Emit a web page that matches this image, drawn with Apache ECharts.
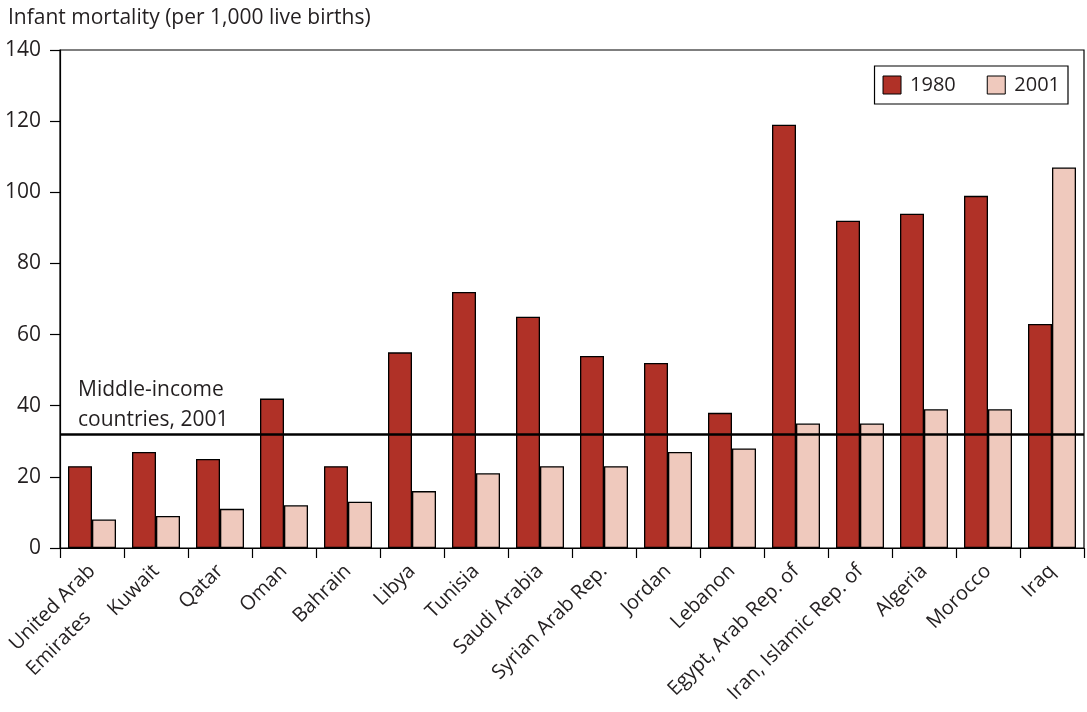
<!DOCTYPE html>
<html>
<head>
<meta charset="utf-8">
<script src="https://cdn.jsdelivr.net/npm/echarts@6/dist/echarts.min.js"></script>
<style>html,body{margin:0;padding:0;background:#fff}#c{width:1087px;height:712px}</style>
</head>
<body>
<div id="c"></div>
<script>
const categories = ['United Arab\nEmirates','Kuwait','Qatar','Oman','Bahrain','Libya','Tunisia','Saudi Arabia','Syrian Arab Rep.','Jordan','Lebanon','Egypt, Arab Rep. of','Iran, Islamic Rep. of','Algeria','Morocco','Iraq'];
const values1980 = [23,27,25,42,23,55,72,65,54,52,38,119,92,94,99,63];
const values2001 = [8,9,11,12,13,16,21,23,23,27,28,35,35,39,39,107];
const middleIncome2001 = 32;
const yTicks = {min:0, max:140, interval:20};

const FONT = '"Open Sans", "Noto Sans", sans-serif';
const TXT = '#231f20';
const chart = echarts.init(document.getElementById('c'), null, {renderer:'canvas'});
chart.setOption({
  animation:false,
  textStyle:{fontFamily:FONT, color:TXT},
  title:{
    text:'Infant mortality (per 1,000 live births)',
    left:3, top:3,
    textStyle:{fontFamily:FONT, fontSize:21, fontWeight:'normal', color:TXT}
  },
  legend:{
    right:19, top:66,
    orient:'horizontal',
    backgroundColor:'#fff',
    borderColor:'#000', borderWidth:1.2,
    padding:[9,8,9,8],
    itemWidth:18, itemHeight:18, itemGap:31,
    icon:'rect',
    itemStyle:{borderColor:'#000', borderWidth:1},
    textStyle:{fontFamily:FONT, fontSize:20, color:TXT, padding:[0,0,0,4]},
    data:['1980','2001']
  },
  grid:{left:60, right:3, top:50, bottom:164, outerBoundsMode:'none', containLabel:false,
        show:true, borderColor:'#000', borderWidth:1.2, backgroundColor:'transparent'},
  xAxis:{
    type:'category',
    data:categories,
    axisLine:{lineStyle:{color:'#000', width:1.2}},
    axisTick:{show:true, length:10, lineStyle:{color:'#000', width:1.2}},
    axisLabel:{
      rotate:45, interval:0, fontFamily:FONT, fontSize:20, color:TXT, margin:20, lineHeight:30,
      formatter:function(v){
        if (v.indexOf('\n') >= 0) {
          const p = v.split('\n');
          return '{s| }\n{a|' + p[0] + '}\n{b|' + p[1] + '}';
        }
        return v;
      },
      rich:{
        s:{fontFamily:FONT, fontSize:20, lineHeight:30},
        a:{fontFamily:FONT, fontSize:20, color:TXT, lineHeight:30},
        b:{fontFamily:FONT, fontSize:20, color:TXT, lineHeight:30, padding:[0,36,0,0]}
      }
    }
  },
  yAxis:{
    type:'value', min:yTicks.min, max:yTicks.max, interval:yTicks.interval,
    axisLine:{show:true, lineStyle:{color:'#000', width:1.2}},
    axisTick:{show:true, length:10, lineStyle:{color:'#000', width:1.2}},
    axisLabel:{fontFamily:FONT, fontSize:21, color:TXT, margin:19},
    splitLine:{show:false}
  },
  series:[
    {
      name:'1980', type:'bar', data:values1980,
      barWidth:24, barGap:'0%',
      itemStyle:{color:'#b03127', borderColor:'#000', borderWidth:1.3},
      markLine:{
        silent:true, symbol:['none','none'],
        lineStyle:{color:'#000', width:2.6, type:'solid'},
        label:{
          show:true, position:'insideStartTop',
          formatter:'Middle-income\ncountries, 2001',
          fontFamily:FONT, fontSize:21, color:TXT, lineHeight:30,
          distance:[18,-1]
        },
        data:[{yAxis:middleIncome2001}],
        z:10
      }
    },
    {
      name:'2001', type:'bar', data:values2001,
      barWidth:24, barGap:'0%',
      itemStyle:{color:'#efc9bd', borderColor:'#000', borderWidth:1.3}
    }
  ]
});
</script>
</body>
</html>
